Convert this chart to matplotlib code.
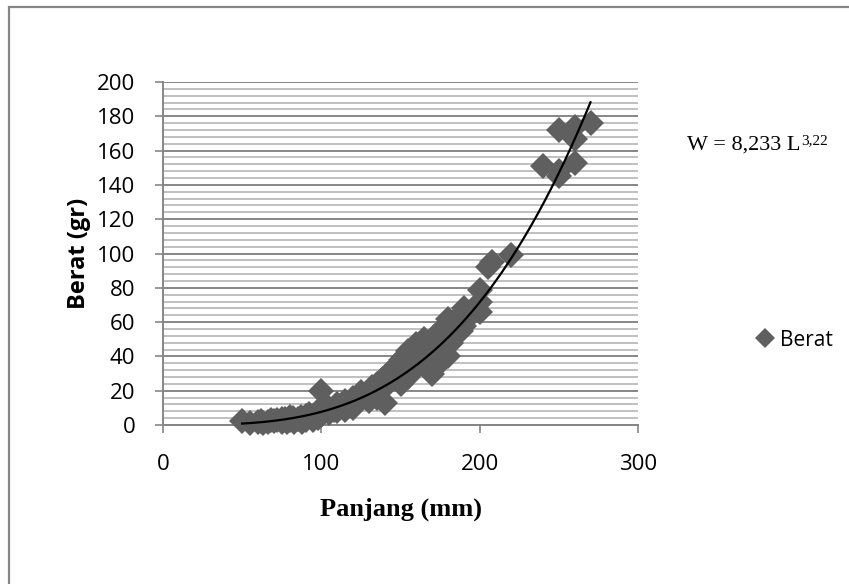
import matplotlib
matplotlib.use("Agg")
import matplotlib.pyplot as plt
import numpy as np
from matplotlib.patches import Rectangle

# ---- data ----
panjang = [50, 55, 60, 62, 63, 66, 68, 70, 72, 75, 75, 77, 78, 80, 80, 82, 83, 85, 87, 88,
           90, 90, 92, 95, 95, 97, 98, 100, 100, 102, 105, 105, 108, 110, 110, 112, 115, 115,
           118, 120, 120, 122, 125, 125, 128, 130, 130, 132, 133, 135, 135, 137, 138, 140, 140,
           140, 142, 143, 145, 145, 147, 148, 150, 150, 150, 152, 153, 155, 155, 155, 157, 158,
           160, 160, 160, 162, 163, 165, 165, 167, 168, 170, 170, 172, 172, 175, 175, 177, 178,
           180, 180, 180, 182, 185, 188, 188, 190, 190, 192, 195, 198, 200, 200, 200, 205, 208,
           220, 240, 250, 250, 250, 260, 260, 260, 270]
berat = [2.5, 1, 1.5, 2.5, 1, 2, 3, 2.5, 3, 2, 3.5, 3.5, 1.5, 3, 4.5, 4, 2, 3.5, 4.5, 2,
         5, 3, 6.5, 5, 3, 7.5, 4, 20, 6, 8, 7, 10, 9, 12, 8, 11, 14, 9,
         12, 16, 10, 13, 15, 19, 17, 20, 14, 22, 18, 24, 16, 21, 26, 13, 28,
         22, 30, 25, 27, 32, 29, 35, 31, 24, 38, 34, 40, 36, 28, 43, 38, 45,
         33, 40, 47, 44, 37, 50, 42, 46, 35, 48, 30, 52, 33, 45, 55, 40, 50,
         40, 58, 62, 48, 53, 55, 65, 68, 58, 62, 66, 70, 66, 72, 79, 92, 95,
         99, 151, 172, 148, 145, 174, 167, 153, 176]

# power trendline W = a * L^b (as displayed: exponent 3,22)
coef_a = 2.79e-6
coef_b = 3.22

x_ticks = [0, 100, 200, 300]
y_ticks = list(range(0, 201, 20))

plt.rcParams['font.family'] = ['Open Sans', 'DejaVu Sans']

fig = plt.figure(figsize=(8.49, 5.84), dpi=100)
W, H = 849, 584
ax = fig.add_axes([163 / W, 1 - 425 / H, (638 - 163) / W, (425 - 82) / H])

# outer chart frame
fig.patches.append(Rectangle((8.5 / W, -0.1), 1.2, (1 - 7 / H) + 0.1, transform=fig.transFigure,
                             fill=False, edgecolor='#868686', linewidth=1.6, clip_on=False))

ax.set_xlim(0, 300)
ax.set_ylim(0, 200)
ax.set_xticks(x_ticks)
ax.set_yticks(y_ticks)
ax.set_yticks(np.arange(0, 201, 4), minor=True)
ax.grid(which='minor', axis='y', color='#c0c0c0', linewidth=1.4, zorder=0)
ax.grid(which='major', axis='y', color='#878787', linewidth=1.4, zorder=0)
ax.tick_params(which='minor', left=False)
ax.tick_params(which='major', direction='out', length=6, width=1.2, color='#868686',
               labelsize=16)
ax.tick_params(axis='y', pad=14)
ax.tick_params(axis='x', pad=15)
for s in ['top', 'right']:
    ax.spines[s].set_visible(False)
for s in ['left', 'bottom']:
    ax.spines[s].set_color('#868686')
    ax.spines[s].set_linewidth(1.4)
ax.set_axisbelow(True)

sc = ax.plot(panjang, berat, linestyle='none', marker='D', markersize=13,
             color='#5f5f5f', markeredgewidth=0, zorder=3, label='Berat', clip_on=False)[0]

xs = np.linspace(min(panjang), max(panjang), 300)
ax.plot(xs, coef_a * xs ** coef_b, color='black', linewidth=1.6, zorder=4, clip_on=False)

ax.set_xlabel('Panjang (mm)', family='Liberation Serif', fontweight='bold', fontsize=19,
              labelpad=16)
ax.set_ylabel('Berat (gr)', fontweight='bold', fontsize=17, labelpad=4)

t = fig.text(687 / W, 1 - 149.5 / H, 'W = 8,233 L', family='Liberation Serif', fontsize=16,
             va='baseline', ha='left')
ax.annotate('3,22', xy=(1, 1), xycoords=t, xytext=(0.8, 1), textcoords='offset points',
            family='Liberation Serif', fontsize=11, va='top', ha='left')

fig.legend([sc], ['Berat'], loc='center left', bbox_to_anchor=(758 / W, 1 - 340 / H),
           frameon=False, fontsize=15, handlelength=0.7, handletextpad=0.35, markerscale=0.75,
           borderpad=0, borderaxespad=0)

fig.savefig('out.png', dpi=100)
